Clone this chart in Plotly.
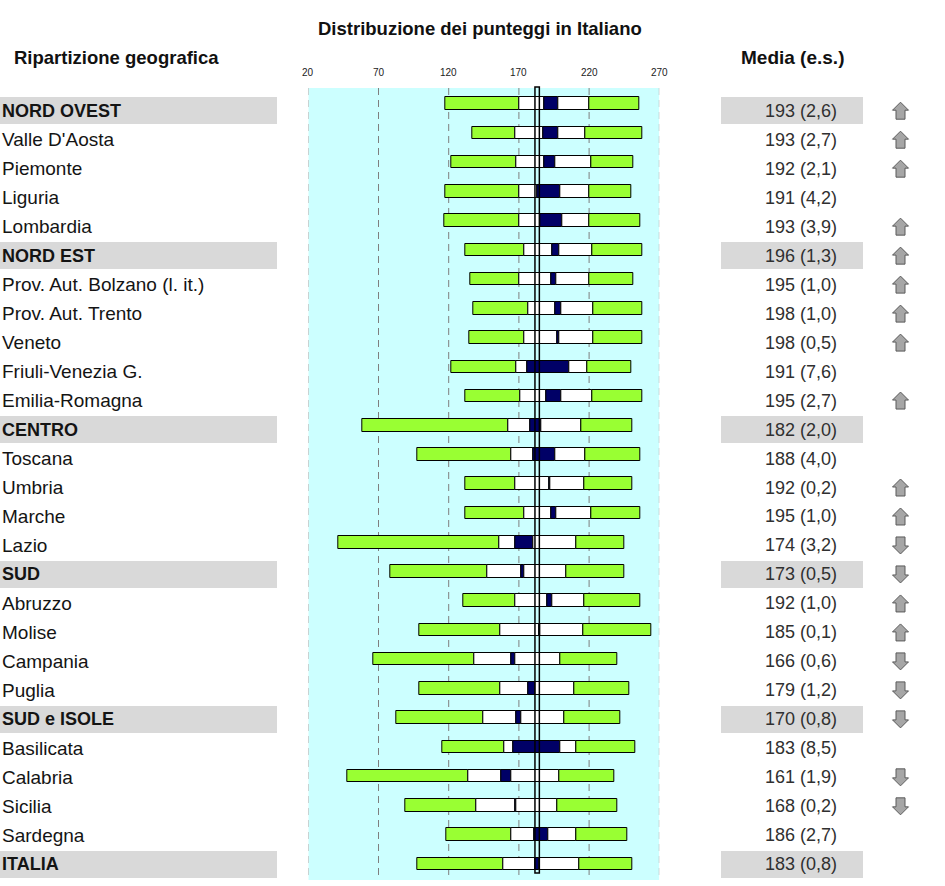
import plotly.graph_objects as go

# ---------------- data ----------------
regions = ["NORD OVEST", "Valle D'Aosta", "Piemonte", "Liguria", "Lombardia",
           "NORD EST", "Prov. Aut. Bolzano (l. it.)", "Prov. Aut. Trento", "Veneto",
           "Friuli-Venezia G.", "Emilia-Romagna", "CENTRO", "Toscana", "Umbria",
           "Marche", "Lazio", "SUD", "Abruzzo", "Molise", "Campania", "Puglia",
           "SUD e ISOLE", "Basilicata", "Calabria", "Sicilia", "Sardegna", "ITALIA"]
is_group = [1, 0, 0, 0, 0, 1, 0, 0, 0, 0, 0, 1, 0, 0, 0, 0, 1, 0, 0, 0, 0, 1, 0, 0, 0, 0, 1]

p5 = [117.4, 136.8, 121.6, 117.6, 116.6, 132.1, 135.7, 137.8, 134.7, 121.6, 131.6,
      58.5, 97.6, 131.6, 132.1, 41.4, 78.7, 130.4, 99.1, 66.3, 99.1, 83.0, 115.7,
      47.8, 89.4, 118.6, 97.6]
p25 = [170.1, 167.2, 168.4, 170.1, 170.1, 173.6, 170.1, 176.7, 173.6, 168.4, 171.3,
       162.5, 164.9, 167.2, 173.6, 155.8, 147.5, 167.2, 156.5, 138.2, 156.5, 144.7,
       159.4, 134.0, 139.9, 164.9, 158.9]
p75 = [219.9, 217.6, 221.4, 219.9, 219.9, 222.5, 220.1, 223.3, 223.3, 218.7, 222.5,
       214.2, 217.6, 216.4, 221.4, 210.7, 204.0, 216.4, 215.9, 199.8, 209.2, 202.1,
       210.7, 198.6, 197.4, 210.7, 213.0]
p95 = [255.5, 257.9, 251.5, 249.8, 256.3, 257.9, 251.5, 257.9, 257.9, 249.8, 257.9,
       250.8, 256.8, 250.8, 256.8, 244.9, 244.9, 256.8, 264.6, 240.1, 248.6, 242.0,
       252.7, 238.0, 240.4, 247.2, 251.0]
means = [193, 193, 192, 191, 193, 196, 195, 198, 198, 191, 195, 182, 188, 192, 195,
         174, 173, 192, 185, 166, 179, 170, 183, 161, 168, 186, 183]
se = [2.6, 2.7, 2.1, 4.2, 3.9, 1.3, 1.0, 1.0, 0.5, 7.6, 2.7, 2.0, 4.0, 0.2, 1.0,
      3.2, 0.5, 1.0, 0.1, 0.6, 1.2, 0.8, 8.5, 1.9, 0.2, 2.7, 0.8]
# 1 = significantly above national mean, -1 = below, 0 = not significant
trend = [1, 1, 1, 0, 1, 1, 1, 1, 1, 0, 1, 0, 0, 1, 1, -1, -1, 1, 1, -1, -1, -1, 0,
         -1, -1, 0, 0]
tick_vals = [20, 70, 120, 170, 220, 270]

# ---------------- styling ----------------
W, H = 945, 886
FONT = "Liberation Sans"
GREEN, NAVY, WHITE = "#99ff33", "#000066", "#ffffff"
CYAN = "#ccffff"
BAND = "#d9d9d9"

n = len(regions)
rows = list(range(n))
ci_lo = [m - 1.96 * s for m, s in zip(means, se)]
ci_hi = [m + 1.96 * s for m, s in zip(means, se)]

# pixel geometry of the two row scales (bars / text)
bar_top, bar_step = 103.7, 29.235
txt_top, txt_step = 110.7, 28.985
y_rng = [(H - bar_top) / bar_step, -bar_top / bar_step]
y2_rng = [(H - txt_top) / txt_step, -txt_top / txt_step]

fig = go.Figure()

segments = [(p5, p25, GREEN), (p25, ci_lo, WHITE), (ci_lo, ci_hi, NAVY),
            (ci_hi, p75, WHITE), (p75, p95, GREEN)]
for a, b, col in segments:
    fig.add_trace(go.Bar(
        y=rows, x=[bb - aa for aa, bb in zip(a, b)], base=a, orientation="h",
        width=0.43, marker=dict(color=col, line=dict(color="black", width=1)),
        xaxis="x", yaxis="y", hoverinfo="skip", showlegend=False))

# grey bands for the macro-areas (left labels and right means)
grp_rows = [r for r in rows if is_group[r]]
fig.add_trace(go.Bar(y=grp_rows, x=[277] * len(grp_rows), base=0, orientation="h",
                     width=0.93, marker=dict(color=BAND, line=dict(width=0)),
                     xaxis="x2", yaxis="y2", hoverinfo="skip", showlegend=False))
fig.add_trace(go.Bar(y=grp_rows, x=[142] * len(grp_rows), base=720.7, orientation="h",
                     width=0.93, marker=dict(color=BAND, line=dict(width=0)),
                     xaxis="x2", yaxis="y2", hoverinfo="skip", showlegend=False))

shapes = []
# cyan plotting band
y_top_bar = (88 - bar_top) / bar_step
y_bot_bar = (880 - bar_top) / bar_step
shapes.append(dict(type="rect", xref="x", yref="y", x0=tick_vals[0], x1=tick_vals[-1],
                   y0=y_top_bar, y1=y_bot_bar, fillcolor=CYAN, line=dict(width=0),
                   layer="below"))
# dashed grid lines
for i, t in enumerate(tick_vals):
    edge = i in (0, len(tick_vals) - 1)
    shapes.append(dict(type="line", xref="x", yref="y", x0=t, x1=t, y0=y_top_bar,
                       y1=y_bot_bar, layer="below",
                       line=dict(color="#b0b0b0" if edge else "#7f7f7f", width=1,
                                 dash="7px,5px")))
# national mean confidence box
shapes.append(dict(type="rect", xref="x", yref="y", x0=ci_lo[-1], x1=ci_hi[-1],
                   y0=(87 - bar_top) / bar_step, y1=(873 - bar_top) / bar_step,
                   fillcolor="rgba(0,0,0,0)", line=dict(color="black", width=1.5),
                   layer="above"))

# arrows
ax = 900.5
def arrow_path(r, d):
    pts = [(0, -8.5), (8, -0.5), (4.5, -0.5), (4.5, 8.5), (-4.5, 8.5), (-4.5, -0.5), (-8, -0.5)]
    coords = [(ax + px, r + (py if d == 1 else -py) / txt_step) for px, py in pts]
    return "M " + " L ".join(f"{x:.2f},{y:.4f}" for x, y in coords) + " Z"

for r, d in zip(rows, trend):
    if d != 0:
        shapes.append(dict(type="path", xref="x2", yref="y2", path=arrow_path(r, d),
                           fillcolor="#a6a6a6", line=dict(color="#5a5a5a", width=1),
                           layer="above"))

annotations = []
for r, name in enumerate(regions):
    g = is_group[r]
    annotations.append(dict(xref="x2", yref="y2", x=0, y=r, xanchor="left",
                            yanchor="middle", showarrow=False,
                            text=f"<b>{name}</b>" if g else name,
                            font=dict(family=FONT, size=18 if g else 19, color="#141414")))
    txt = f"{means[r]} ({se[r]:.1f})".replace(".", ",")
    annotations.append(dict(xref="x2", yref="y2", x=839, y=r, xanchor="right",
                            yanchor="middle", showarrow=False, text=txt,
                            font=dict(family=FONT, size=18, color="#303030")))

for t in tick_vals:
    annotations.append(dict(xref="x", yref="paper", x=t, y=1 - 72 / H, xanchor="center",
                            yanchor="middle", showarrow=False, text=str(t),
                            font=dict(family=FONT, size=10, color="#222222")))

annotations.append(dict(xref="paper", yref="paper", x=480 / W, y=1 - 29 / H,
                        xanchor="center", yanchor="middle", showarrow=False,
                        text="<b>Distribuzione dei punteggi in Italiano</b>",
                        font=dict(family=FONT, size=18.5, color="#111111")))
annotations.append(dict(xref="paper", yref="paper", x=12 / W, y=1 - 57 / H,
                        xanchor="left", yanchor="middle", showarrow=False,
                        text="<b>Ripartizione geografica</b>",
                        font=dict(family=FONT, size=18.5, color="#111111")))
annotations.append(dict(xref="paper", yref="paper", x=792 / W, y=1 - 57 / H,
                        xanchor="center", yanchor="middle", showarrow=False,
                        text="<b>Media (e.s.)</b>",
                        font=dict(family=FONT, size=19, color="#111111")))

fig.update_layout(
    width=W, height=H, margin=dict(l=0, r=0, t=0, b=0),
    paper_bgcolor="white", plot_bgcolor="rgba(0,0,0,0)",
    barmode="overlay", showlegend=False, bargap=0,
    xaxis=dict(domain=[308.3 / W, 659.3 / W], range=[tick_vals[0], tick_vals[-1]],
               visible=False, anchor="y"),
    yaxis=dict(domain=[0, 1], range=y_rng, visible=False, anchor="x"),
    xaxis2=dict(domain=[0, 1], range=[0, W], visible=False, anchor="y2"),
    yaxis2=dict(domain=[0, 1], range=y2_rng, visible=False, anchor="x2"),
    shapes=shapes, annotations=annotations,
)

fig.write_html("out.html", config={"displayModeBar": False},
               post_script="document.body.style.margin='0px';document.body.style.overflow='hidden';")
